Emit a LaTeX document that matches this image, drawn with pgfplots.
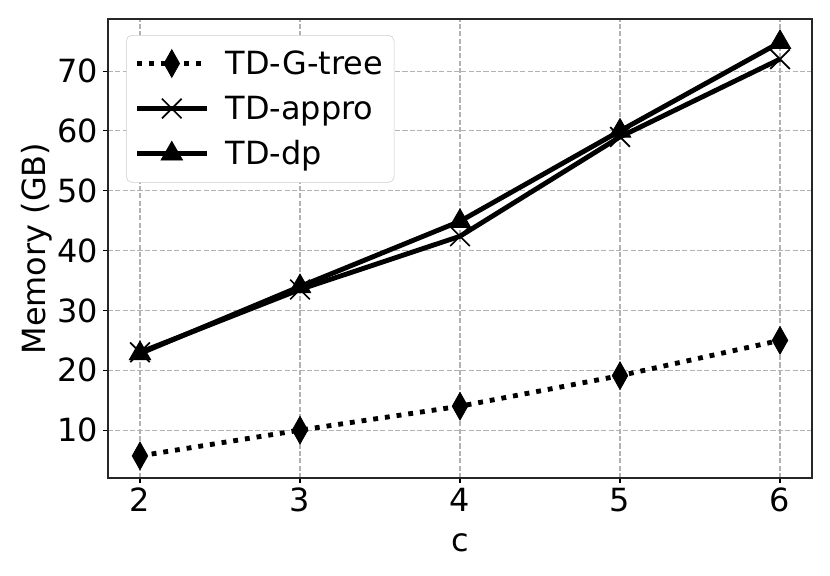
\documentclass[border=0pt]{standalone}
\usepackage{fontspec}
\setmainfont{DejaVu Sans}
\usepackage{pgfplots}
\pgfplotsset{compat=1.18}
\usetikzlibrary{calc}
\begin{document}
\begin{tikzpicture}
\begin{axis}[
  name=ax,
  scale only axis,
  width=506.9pt, height=330.5pt,
  xmin=1.8, xmax=6.2, ymin=2.0, ymax=78.7,
  xtick={2,3,4,5,6},
  ytick={10,20,30,40,50,60,70},
  /pgf/number format/assume math mode=true,
  tick label style={font=\fontsize{23}{27}\selectfont},
  label style={font=\fontsize{23}{27}\selectfont},
  xlabel={c}, ylabel={Memory (GB)},
  xlabel style={yshift=-9pt},
  ylabel style={yshift=-3pt},
  tick align=outside, tick pos=left,
  major tick length=3.5pt,
  every tick/.style={black, line width=0.8pt},
  axis line style={line width=0.8pt, black!85},
  grid=major,
  major grid style={gray!60, line width=0.8pt, dash pattern=on 3.7pt off 1.6pt},
  legend cell align=left,
  legend style={at={(0.0256,0.965)}, anchor=north west,
    font=\fontsize{23}{27}\selectfont,
    draw=black!20, rounded corners=4pt, fill=white,
    inner xsep=6pt, inner ysep=9pt, row sep=10pt, column sep=10pt},
  legend image code/.code={\draw[mark repeat=2, mark phase=2, #1] plot coordinates {(0pt,0pt) (25pt,0pt) (50pt,0pt)};},
]
\addplot[black, line width=3.5pt, dash pattern=on 3.5pt off 5pt, mark=diamond*, mark size=10pt, mark options={solid, xscale=0.75, line width=0.5pt}]
  coordinates {(2,5.7) (3,10) (4,14) (5,19.1) (6,25)};
\addlegendentry{TD-G-tree}
\addplot[black, line width=3.5pt, mark=x, mark size=10pt, mark options={line width=1.2pt}]
  coordinates {(2,23) (3,33.5) (4,42.4) (5,59) (6,72)};
\addlegendentry{TD-appro}
\addplot[black, line width=3.5pt, mark=triangle*, mark size=9pt, mark options={line width=0.5pt}]
  coordinates {(2,22.8) (3,34) (4,44.9) (5,60) (6,74.8)};
\addlegendentry{TD-dp}
\end{axis}
\path[use as bounding box] ($(ax.south west)+(-77.76pt,-69.84pt)$) rectangle ($(ax.north east)+(12.96pt,13.68pt)$);
\end{tikzpicture}
\end{document}
